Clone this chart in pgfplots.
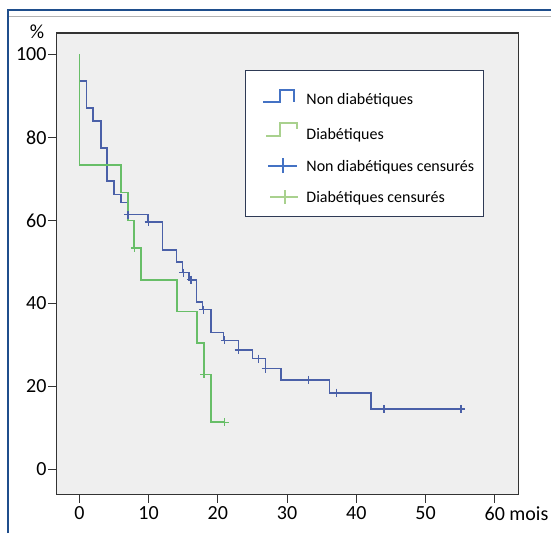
\documentclass[border=0pt]{standalone}
\usepackage{fontspec}
\setmainfont{Carlito}
\usepackage{pgfplots}
\pgfplotsset{compat=1.18}

\definecolor{kmblue}{RGB}{74,96,168}
\definecolor{kmgreen}{RGB}{104,190,104}
\definecolor{legblue}{RGB}{68,114,196}
\definecolor{leggreen}{RGB}{169,209,142}
\definecolor{framebl}{RGB}{31,78,140}
\definecolor{boxgray}{RGB}{239,239,239}
\definecolor{legframe}{RGB}{46,58,85}

\begin{document}
\begin{tikzpicture}
\useasboundingbox (0,0) rectangle (551pt,533pt);
\fill[white] (0,0) rectangle (551pt,533pt);
\draw[framebl, line width=2.2pt] (8pt,0) -- (8pt,523pt) -- (551pt,523pt);
\draw[black!30, line width=0.8pt] (9.1pt,517pt) -- (551pt,517pt);
\node[font=\fontsize{20}{24}\selectfont] at (37pt,501pt) {\%};
\begin{axis}[
    at={(56.2pt,38.5pt)}, anchor=south west,
    scale only axis,
    width=462.1pt, height=461.5pt,
    xmin=-3.35, xmax=63.4,
    ymin=-6, ymax=105.1,
    axis background/.style={fill=boxgray},
    axis line style={black!80, line width=1.2pt},
    tick pos=left, tick align=outside,
    major tick length=8pt,
    tick style={black!80, line width=1pt},
    xtick={0,10,...,60},
    ytick={0,20,...,100},
    xticklabels={0,10,20,30,40,50,{60\rlap{ mois}}},
    ticklabel style={font=\fontsize{20}{24}\selectfont},
    /pgf/number format/assume math mode=true,
    yticklabel style={inner sep=1.5pt},
    xticklabel style={inner sep=4pt},
    legend style={
        at={(0.4086,0.9198)}, anchor=north west,
        draw=legframe, line width=0.8pt, fill=white,
        font=\fontsize{16}{19}\selectfont,
        inner xsep=7pt, inner ysep=10pt,
        row sep=14pt,
    },
    legend cell align=left,
]
% Non diabetiques
\addplot[kmblue, line width=1.6pt, const plot,
    legend image code/.code={
        \path[draw=none, fill=none] (-11pt,-8pt) rectangle (41pt,19pt);
        \draw[legblue, line width=2pt] (0pt,-3pt) -- (17pt,-3pt) -- (17pt,9.5pt) -- (31pt,9.5pt) -- (31pt,-3pt);
    }]
coordinates {
    (0,100) (0,93.5) (1.0,87.1) (2.0,83.9) (3.1,77.4) (4.0,69.4)
    (5.0,66.2) (6.0,64.3) (7.0,61.4) (9.9,59.6) (12.0,52.9) (14.0,50.0)
    (14.9,47.4) (15.8,45.7) (16.9,40.3) (17.8,38.5) (19.0,33.0) (20.8,31.1)
    (23.0,28.8) (25.0,26.7) (26.9,24.3) (29.1,21.6) (36.1,18.5) (42.1,14.6)
    (55.1,14.6)
};
\addlegendentry{Non diabétiques}
% Diabetiques
\addplot[kmgreen, line width=1.6pt, const plot,
    legend image code/.code={
        \path[draw=none, fill=none] (-11pt,-8pt) rectangle (41pt,8pt);
        \draw[leggreen, line width=2pt] (3pt,-1pt) -- (17pt,-1pt) -- (17pt,12pt) -- (34pt,12pt) -- (34pt,6pt);
    }]
coordinates {
    (0,100) (0,73.3) (6.0,66.7) (7.0,60.0) (7.9,53.3) (8.9,45.7)
    (14.1,38.1) (17.0,30.5) (18.0,22.9) (19.0,11.4) (21.0,11.4)
};
\addlegendentry{Diabétiques}
% Non diabetiques censures
\addplot[only marks, mark=+, mark size=4pt, kmblue, line width=1.4pt,
    legend image code/.code={
        \path[draw=none, fill=none] (-11pt,-8pt) rectangle (41pt,8pt);
        \draw[legblue, line width=2pt] (5pt,1pt) -- (34pt,1pt);
        \draw[legblue, line width=2pt] (20pt,-6.5pt) -- (20pt,8.5pt);
    }]
coordinates {
    (7.0,61.4) (10.0,59.6) (15.0,47.4) (16.1,45.7) (17.9,38.5) (21.0,31.1)
    (23.0,28.8) (25.9,26.7) (26.9,24.3) (33.1,21.6) (37.1,18.5) (44.0,14.6)
    (55.1,14.6)
};
\addlegendentry{Non diabétiques censurés}
% Diabetiques censures
\addplot[only marks, mark=+, mark size=4pt, kmgreen, line width=1.4pt,
    legend image code/.code={
        \path[draw=none, fill=none] (-11pt,-8pt) rectangle (41pt,8pt);
        \draw[leggreen, line width=2pt] (7pt,1pt) -- (35pt,1pt);
        \draw[leggreen, line width=2pt] (22pt,-6pt) -- (22pt,8pt);
    }]
coordinates {
    (8.0,53.3) (18.0,22.9) (21.0,11.4)
};
\addlegendentry{Diabétiques censurés}
\end{axis}
\end{tikzpicture}
\end{document}
